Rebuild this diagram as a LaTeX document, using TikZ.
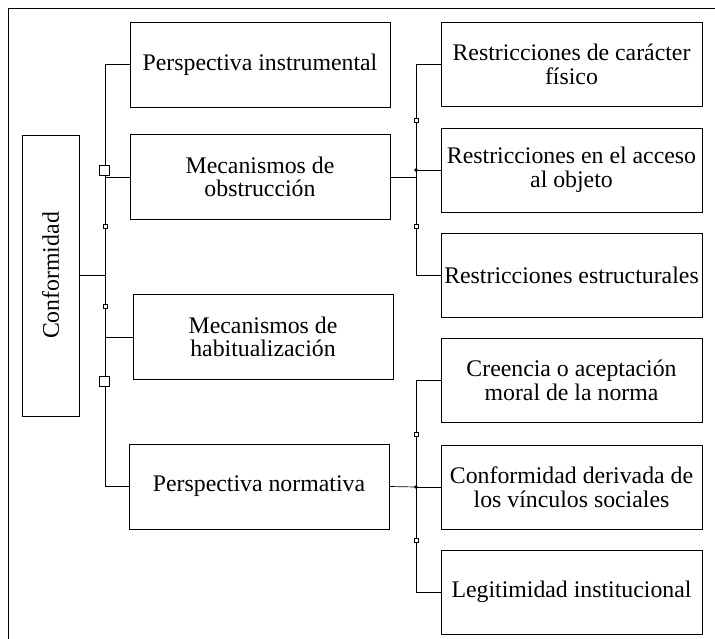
\documentclass[tikz,border=0pt]{standalone}
\usepackage{fontspec}
\setmainfont{Liberation Serif}
\begin{document}
\begin{tikzpicture}[
				x=1pt, y=-1pt,
				every node/.style={font=\fontsize{23.8}{23.5}\selectfont},
				box/.style={draw, line width=0.8pt, align=center, inner sep=1pt},
				branch/.style={box, minimum width=260pt, minimum height=85pt},
				leaf/.style={box, minimum width=261pt, minimum height=84pt},
				link/.style={line width=0.7pt},
				handle/.style={draw, fill=white, line width=0.5pt, inner sep=0pt, minimum size=4pt},
				bighandle/.style={handle, minimum size=10pt}
			]
			\useasboundingbox (0,0) rectangle (715,639);
			\draw[line width=0.8pt] (8,639) |- (715,8);
			\node[box, minimum width=57pt, minimum height=281pt] (root) at (50.5,275.5) {\rotatebox{90}{Conformidad}};
			\node[branch] (pinst) at (260,64.5) {Perspectiva instrumental};
			\node[branch] (mobs) at (260,177) {Mecanismos de\\obstrucción};
			\node[branch] (mhab) at (263,337) {Mecanismos de\\habitualización};
			\node[branch] (pnorm) at (259,486.5) {Perspectiva normativa};
			\node[leaf] (rfis) at (571.5,64.5) {Restricciones de carácter\\físico};
			\node[leaf] (racc) at (571.5,170) {Restricciones en el acceso\\al objeto};
			\node[leaf] (rest) at (571.5,275) {Restricciones estructurales};
			\node[leaf] (cree) at (571.5,380.5) {Creencia o aceptación\\moral de la norma};
			\node[leaf] (cder) at (571.5,487) {Conformidad derivada de\\los vínculos sociales};
			\node[leaf] (legi) at (571.5,592) {Legitimidad institucional};
			\coordinate (f0) at (105,275.5);
			\coordinate (f1) at (416,170);
			\coordinate (f2) at (416,487);
			\draw[link] (root.east) -- (f0);
			\foreach \n in {pinst,mobs,mhab,pnorm}
				\draw[link] (f0) |- (\n.west);
			\draw[link] (mobs.east) -| (f1);
			\foreach \n in {rfis,racc,rest}
				\draw[link] (f1) |- (\n.west);
			\draw[link] (pnorm.east) -- (f2);
			\foreach \n in {cree,cder,legi}
				\draw[link] (f2) |- (\n.west);
			\fill (f1) circle (1.8);
			\fill (f2) circle (1.8);
			\foreach \p [count=\i] in {(105,226),(105,306),(416,120),(416,226),(416,434),(416,540)}
				\node[handle] (h\i) at \p {};
			\node[bighandle] (hb1) at (104.5,170) {};
			\node[bighandle] (hb2) at (104,381) {};
		\end{tikzpicture}
\end{document}
